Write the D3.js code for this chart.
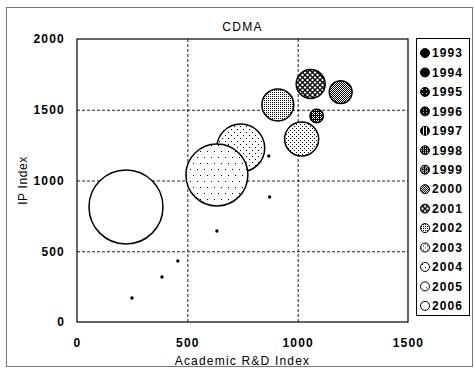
<!DOCTYPE html>
<html>
<head>
<meta charset="utf-8">
<script src="https://cdn.jsdelivr.net/npm/d3@7"></script>
<style>
body { margin: 0; background: #fff; }
text { font-family: "Liberation Sans", Arial, sans-serif; fill: #000; }
.tick text { font-size: 12px; font-weight: bold; letter-spacing: 1.2px; }
.grid line { stroke: #222; stroke-dasharray: 3,2; }
</style>
</head>
<body>
<svg width="474" height="368"></svg>
<script>
// values
var years      = [1993, 1994, 1995, 1996, 1997, 1998, 1999, 2000, 2001, 2002, 2003, 2004, 2005, 2006];
var rdIndex    = [249, 385, 457, 634, 873, 869, 1086, 1195, 1059, 910, 1018, 742, 634, 222];
var ipIndex    = [170, 318, 431, 643, 883, 1173, 1456, 1625, 1682, 1534, 1293, 1230, 1039, 813];
var bubbleSize = [2, 2, 2, 2, 2, 2, 45, 130, 210, 255, 290, 575, 960, 1370];
var xTicks = [0, 500, 1000, 1500];
var yTicks = [0, 500, 1000, 1500, 2000];

var svg = d3.select("svg"),
    width = +svg.attr("width"),
    height = +svg.attr("height");

var margin = {top: 39, right: 66, bottom: 46, left: 77},
    plotW = width - margin.left - margin.right,
    plotH = height - margin.top - margin.bottom;

// fill textures, one per year (dark -> light)
var patterns = [
    {bg: "#000"},
    {bg: "#000"},
    {bg: "#000", fg: "#fff", w: 4, h: 4, d: "M1,1h1v1h-1z"},
    {bg: "#000", fg: "#fff", w: 3, h: 3, d: "M1,1h1v1h-1z"},
    {bg: "#000", fg: "#fff", w: 3, h: 3, d: "M1,0h1v3h-1z"},
    {bg: "#000", fg: "#fff", w: 2, h: 2, d: "M0,0h1v1h-1z"},
    {bg: "#000", fg: "#fff", w: 4, h: 4, d: "M0,0h1v1h-1zM2,0h1v1h-1zM0,2h1v1h-1zM2,2h1v1h-1zM1,1h1v1h-1z"},
    {bg: "#000", fg: "#fff", w: 2, h: 2, d: "M0,0h1v1h-1zM1,1h1v1h-1z"},
    {bg: "#fff", stroke: "#000", w: 5, h: 5, d: "M0,0L5,5M5,0L0,5"},
    {bg: "#fff", fg: "#000", w: 2, h: 2, d: "M0,0h1v1h-1z"},
    {bg: "#fff", fg: "#000", w: 4, h: 4, d: "M0,0h1v1h-1zM2,2h1v1h-1z"},
    {bg: "#fff", fg: "#000", w: 6, h: 6, d: "M0,0h1v1h-1zM3,3h1v1h-1z"},
    {bg: "#fff", fg: "#000", w: 7, h: 12, d: "M1,1h1v1h-1zM4,7h1v1h-1z"},
    {bg: "#fff"}
];

var defs = svg.append("defs");
patterns.forEach(function(p, i) {
    var pat = defs.append("pattern")
        .attr("id", "pat" + i)
        .attr("patternUnits", "userSpaceOnUse")
        .attr("width", p.w || 4)
        .attr("height", p.h || 4);
    pat.append("rect")
        .attr("width", p.w || 4)
        .attr("height", p.h || 4)
        .attr("fill", p.bg);
    if (p.fg) pat.append("path").attr("d", p.d).attr("fill", p.fg);
    if (p.stroke) pat.append("path").attr("d", p.d).attr("fill", "none")
        .attr("stroke", p.stroke).attr("stroke-width", 1.3);
});

var data = years.map(function(y, i) {
    return {year: y, x: rdIndex[i], y: ipIndex[i], size: bubbleSize[i], i: i};
});

var x = d3.scaleLinear().domain([0, 1500]).range([margin.left, margin.left + plotW]);
var y = d3.scaleLinear().domain([0, 2000]).range([margin.top + plotH, margin.top]);
var r = d3.scaleSqrt().domain([0, d3.max(bubbleSize)]).range([0, 37]);

// outer border of the figure
svg.append("rect")
    .attr("x", 6.5).attr("y", 7.5)
    .attr("width", 466).attr("height", 359)
    .attr("fill", "none")
    .attr("stroke", "#777");

// grid
var grid = svg.append("g").attr("class", "grid");
grid.selectAll(".gx")
    .data(xTicks.slice(1, -1))
    .enter().append("line")
        .attr("x1", function(d) { return x(d) + 0.5; })
        .attr("x2", function(d) { return x(d) + 0.5; })
        .attr("y1", y(2000)).attr("y2", y(0));
grid.selectAll(".gy")
    .data(yTicks.slice(1, -1))
    .enter().append("line")
        .attr("y1", function(d) { return y(d) + 0.5; })
        .attr("y2", function(d) { return y(d) + 0.5; })
        .attr("x1", x(0)).attr("x2", x(1500));

// plot frame
svg.append("rect")
    .attr("x", x(0)).attr("y", y(2000))
    .attr("width", plotW).attr("height", plotH)
    .attr("fill", "none")
    .attr("stroke", "#000")
    .attr("stroke-width", 1.2);

// axes
var xAxis = svg.append("g")
    .attr("transform", "translate(0," + y(0) + ")")
    .call(d3.axisBottom(x).tickValues(xTicks).tickFormat(d3.format("d")).tickSize(0).tickPadding(16));
xAxis.select(".domain").remove();

var yAxis = svg.append("g")
    .attr("transform", "translate(" + x(0) + ",0)")
    .call(d3.axisLeft(y).tickValues(yTicks).tickFormat(d3.format("d")).tickSize(0).tickPadding(12));
yAxis.select(".domain").remove();

// bubbles, later years on top; the tiny early ones are plain black dots
svg.append("g")
    .selectAll("circle")
    .data(data)
    .enter().append("circle")
        .attr("cx", function(d) { return x(d.x); })
        .attr("cy", function(d) { return y(d.y); })
        .attr("r", function(d) { return Math.max(r(d.size), 1.7); })
        .attr("fill", function(d) { return r(d.size) > 3 ? "url(#pat" + d.i + ")" : "#000"; })
        .attr("stroke", "#000")
        .attr("stroke-width", function(d) { return r(d.size) > 3 ? 1.5 : 0; });

// titles
svg.append("text")
    .attr("x", x(750)).attr("y", 31)
    .attr("text-anchor", "middle")
    .style("font-size", "12px").style("letter-spacing", "1.3px")
    .text("CDMA");

svg.append("text")
    .attr("x", x(750)).attr("y", 365)
    .attr("text-anchor", "middle")
    .style("font-size", "12px").style("letter-spacing", "1.2px")
    .text("Academic R&D Index");

svg.append("text")
    .attr("transform", "translate(27," + y(1000) + ") rotate(-90)")
    .attr("text-anchor", "middle")
    .style("font-size", "12px").style("letter-spacing", "0.6px")
    .text("IP Index");

// legend
var legend = svg.append("g");
legend.append("rect")
    .attr("x", 416.5).attr("y", 38.5)
    .attr("width", 53).attr("height", 277)
    .attr("fill", "#fff")
    .attr("stroke", "#000");

var item = legend.selectAll(".item")
    .data(data)
    .enter().append("g")
        .attr("transform", function(d, i) { return "translate(425," + (53 + i * 19.45) + ")"; });

item.append("circle")
    .attr("r", 4.5)
    .attr("fill", function(d) { return "url(#pat" + d.i + ")"; })
    .attr("stroke", "#000");

item.append("text")
    .attr("x", 7)
    .attr("dy", "0.36em")
    .style("font-size", "12px").style("font-weight", "bold").style("letter-spacing", "1.1px")
    .text(function(d) { return d.year; });
</script>
</body>
</html>
